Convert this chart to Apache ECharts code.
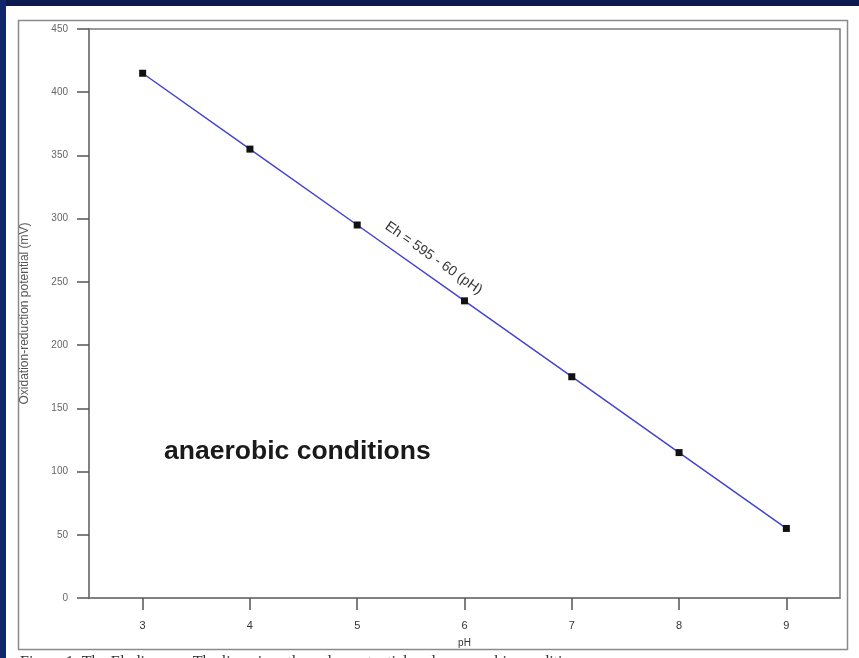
<!DOCTYPE html>
<html><head><meta charset="utf-8">
<script src="https://cdn.jsdelivr.net/npm/echarts@6/dist/echarts.min.js"></script>
<style>html,body{margin:0;padding:0;background:#fff;}#c{width:859px;height:658px;}</style>
</head><body><div id="c"></div>
<script>
const pH = [3, 4, 5, 6, 7, 8, 9];
const eh = [415, 355, 295, 235, 175, 115, 55];
const xTicks = [3, 4, 5, 6, 7, 8, 9];
const yTicks = [0, 50, 100, 150, 200, 250, 300, 350, 400, 450];
const yTitle = 'Oxidation-reduction potential (mV)';
const xTitle = 'pH';
const eqText = 'Eh = 595 - 60 (pH)';
const noteText = 'anaerobic conditions';
const captionText = 'Figure 1. The Eh diagram. The line gives the redox potential under anaerobic conditions';

const chart = echarts.init(document.getElementById('c'), null, {renderer: 'canvas'});
const axisGray = '#7a7a7a';
const option = {
  backgroundColor: '#ffffff',
  animation: false,
  grid: {left: 89, right: 19, top: 29, bottom: 60, show: true, borderColor: axisGray, borderWidth: 1.5, backgroundColor: 'transparent'},
  xAxis: {
    type: 'value', min: 2.5, max: 9.5,
    name: xTitle, nameLocation: 'middle', nameGap: 40,
    nameTextStyle: {fontFamily: 'Liberation Sans', fontSize: 10, color: '#333'},
    axisLine: {show: true, onZero: false, lineStyle: {color: axisGray, width: 1.5}},
    axisTick: {show: true, inside: false, length: 12, customValues: xTicks, lineStyle: {color: '#555', width: 1.5}},
    axisLabel: {customValues: xTicks, margin: 22, fontFamily: 'Liberation Sans', fontSize: 11, color: '#333'},
    splitLine: {show: false}
  },
  yAxis: {
    type: 'value', min: 0, max: 450, interval: 50,
    name: yTitle, nameLocation: 'middle', nameGap: 58, nameRotate: 90,
    nameTextStyle: {fontFamily: 'Liberation Sans', fontSize: 12, color: '#555'},
    axisLine: {show: true, lineStyle: {color: axisGray, width: 1.5}},
    axisTick: {show: true, inside: false, length: 12, lineStyle: {color: '#555', width: 1.5}},
    axisLabel: {margin: 21, fontFamily: 'Liberation Sans', fontSize: 10, color: '#666',
      formatter: v => yTicks.includes(v) ? String(v) : ''},
    splitLine: {show: false}
  },
  series: [{
    type: 'line',
    data: pH.map((x, i) => [x, eh[i]]),
    symbol: 'rect', symbolSize: 7,
    itemStyle: {color: '#111'},
    lineStyle: {color: '#4444cc', width: 1.5},
    z: 3
  }]
};
chart.setOption(option);

// annotation positions derived from axis scales
const mid = chart.convertToPixel({gridIndex: 0}, [5.62, 595 - 60 * 5.62]);
const a = chart.convertToPixel({gridIndex: 0}, [3, eh[0]]);
const b = chart.convertToPixel({gridIndex: 0}, [9, eh[6]]);
const ang = Math.atan2(b[1] - a[1], b[0] - a[0]);
const off = 17;
const ex = mid[0] + Math.sin(ang) * off;
const ey = mid[1] - Math.cos(ang) * off;
const notePos = chart.convertToPixel({gridIndex: 0}, [3.2, 115]);

chart.setOption({
  graphic: [
    {type: 'rect', silent: true, z: -10, shape: {x: 0, y: 0, width: 859, height: 6}, style: {fill: '#0d1a4d'}},
    {type: 'rect', silent: true, z: -10, shape: {x: 0, y: 0, width: 6, height: 658}, style: {fill: '#11256a'}},
    {type: 'rect', silent: true, z: -5, shape: {x: 18.5, y: 20.5, width: 829, height: 629}, style: {fill: 'none', stroke: '#8a8a8a', lineWidth: 1.5}},
    {type: 'text', silent: true, x: ex, y: ey, rotation: -ang,
      style: {text: eqText, fontFamily: 'Liberation Sans', fontSize: 14, fill: '#333', align: 'center', verticalAlign: 'middle'}},
    {type: 'text', silent: true, x: notePos[0], y: 452,
      style: {text: noteText, fontFamily: 'Liberation Sans', fontWeight: 'bold', fontSize: 26.5, fill: '#1a1a1a', align: 'left', verticalAlign: 'middle'}},
    {type: 'text', silent: true, x: 20, y: 655,
      style: {text: captionText, fontFamily: 'Liberation Serif', fontSize: 16, fill: '#333', align: 'left', verticalAlign: 'top'}}
  ]
});
</script></body></html>
